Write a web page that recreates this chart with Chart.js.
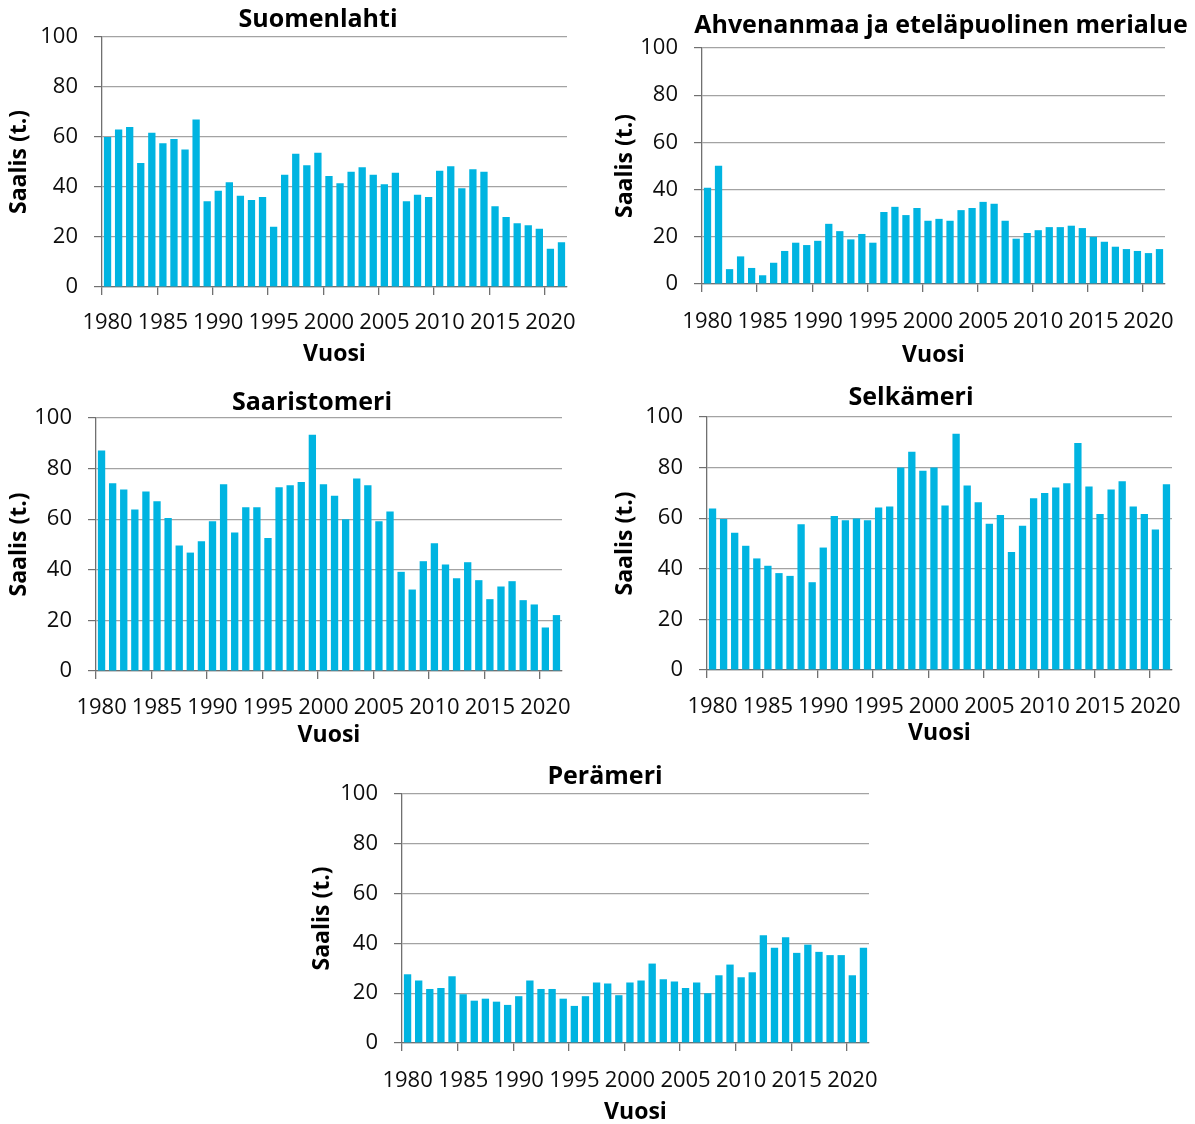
<!DOCTYPE html>
<html>
<head>
<meta charset="utf-8">
<script src="https://cdn.jsdelivr.net/npm/chart.js@4"></script>
<style>
  html, body { margin: 0; padding: 0; background: #fff; }
  #page { position: relative; width: 1195px; height: 1124px; overflow: hidden; }
  #page canvas { position: absolute; }
</style>
</head>
<body>
<div id="page"></div>
<script>
const years = [
    "1980","1981","1982","1983","1984","1985","1986","1987","1988","1989",
    "1990","1991","1992","1993","1994","1995","1996","1997","1998","1999",
    "2000","2001","2002","2003","2004","2005","2006","2007","2008","2009",
    "2010","2011","2012","2013","2014","2015","2016","2017","2018","2019",
    "2020","2021"
];

const suomenlahti = [60.0, 63.0, 64.0, 49.6, 61.7, 57.5, 59.2, 55.0, 67.0, 34.3,
    38.5, 41.9, 36.5, 34.8, 36.0, 24.1, 44.9, 53.3, 48.7, 53.7,
    44.4, 41.5, 46.1, 47.9, 44.9, 41.1, 45.7, 34.3, 36.9, 36.0,
    46.5, 48.3, 39.5, 47.1, 46.1, 32.3, 28.0, 25.5, 24.7, 23.3,
    15.3, 17.9];

const ahvenanmaa = [40.8, 50.1, 6.3, 11.7, 6.8, 3.7, 9.0, 14.0, 17.5, 16.5,
    18.3, 25.5, 22.4, 18.9, 21.2, 17.5, 30.5, 32.7, 29.2, 32.2,
    26.8, 27.6, 26.8, 31.3, 32.2, 34.8, 34.0, 26.8, 19.2, 21.6,
    22.8, 24.1, 24.1, 24.7, 23.7, 20.0, 17.9, 15.8, 14.8, 14.0,
    13.1, 14.8];

const saaristomeri = [87.2, 74.2, 71.7, 63.8, 70.9, 67.1, 60.5, 49.6, 46.8, 51.3,
    59.2, 73.8, 54.7, 64.7, 64.7, 52.6, 72.6, 73.4, 74.7, 93.4,
    73.8, 69.3, 60.0, 76.1, 73.4, 59.2, 63.0, 39.2, 32.2, 43.4,
    50.5, 42.1, 36.7, 43.0, 35.9, 28.4, 33.4, 35.5, 28.0, 26.3,
    17.2, 22.1];

const selkameri = [63.8, 59.7, 54.2, 49.1, 44.1, 41.2, 38.3, 37.2, 57.6, 34.7,
    48.4, 60.9, 59.2, 59.9, 59.2, 64.2, 64.6, 80.0, 86.3, 78.8,
    80.0, 65.0, 93.4, 72.9, 66.3, 57.8, 61.3, 46.6, 57.0, 67.9,
    70.0, 72.1, 73.8, 89.7, 72.5, 61.7, 71.3, 74.6, 64.6, 61.7,
    55.5, 73.4];

const peramerí = [27.6, 25.1, 21.7, 22.1, 26.8, 19.6, 17.0, 17.8, 16.6, 15.3,
    18.8, 25.1, 21.7, 21.7, 17.8, 14.9, 18.8, 24.3, 23.9, 19.2,
    24.3, 25.1, 31.9, 25.6, 24.7, 22.1, 24.3, 20.0, 27.2, 31.5,
    26.4, 28.4, 43.3, 38.3, 42.5, 36.2, 39.5, 36.6, 35.3, 35.3,
    27.2, 38.3];

const yMin = 0;
const yMax = 100;
const yStep = 20;
const labelEvery = 5;

const yTitle = "Saalis (t.)";
const xTitle = "Vuosi";

/* =========================
      STYLE + LAYOUT
========================= */

const FONT = "'Open Sans', 'Noto Sans', sans-serif";
const BAR = "#00b4e1";
const GRID = "#a3a3a3";
const AXIS = "#707070";
const TEXT = "#0d0d0d";
const TICK_SIZE = 22;
const TITLE_SIZE = 25;
const AXTITLE_SIZE = 23;

// where each panel sits in the picture (title centre, plot box, label rows)
const panels = [
    { title: "Suomenlahti", data: suomenlahti,
      titleX: 318, titleY: 18, yLabX: 20, plotL: 102, plotR: 567, plotT: 37, plotB: 287, xLabY: 320, vuosiY: 352 },
    { title: "Ahvenanmaa ja eteläpuolinen merialue", data: ahvenanmaa,
      titleX: 941, titleY: 24, yLabX: 626, plotL: 702, plotR: 1165, plotT: 48, plotB: 284, xLabY: 319, vuosiY: 353 },
    { title: "Saaristomeri", data: saaristomeri,
      titleX: 312, titleY: 401, yLabX: 20, plotL: 96, plotR: 562, plotT: 418, plotB: 671, xLabY: 705, vuosiY: 733 },
    { title: "Selkämeri", data: selkameri,
      titleX: 911, titleY: 396, yLabX: 626, plotL: 707, plotR: 1172, plotT: 417, plotB: 670, xLabY: 704, vuosiY: 731 },
    { title: "Perämeri", data: peramerí,
      titleX: 605, titleY: 775, yLabX: 323, plotL: 402, plotR: 869, plotT: 794, plotB: 1043, xLabY: 1078, vuosiY: 1110 }
];

function createPanel(p) {

    const titleLine = TITLE_SIZE * 1.2;
    const axLine = AXTITLE_SIZE * 1.2;
    const tickLine = TICK_SIZE * 1.2;

    // canvas text sits a little high with a middle baseline, so nudge down
    const top = Math.round(p.titleY + 2 - 4 - titleLine / 2);
    const left = Math.round(p.yLabX - 4 - axLine / 2);
    const bottom = Math.round(p.vuosiY + 2 + axLine / 2 + 4);
    const right = Math.round(2 * p.titleX - left);

    const canvas = document.createElement("canvas");
    canvas.width = right - left;
    canvas.height = bottom - top;
    canvas.style.left = left + "px";
    canvas.style.top = top + "px";
    document.getElementById("page").appendChild(canvas);

    const yWidth = p.plotL - left;
    const padWidth = right - p.plotR;
    const xHeight = bottom - p.plotB;
    const titleGap = p.plotT - top - 4 - titleLine;
    const xTickPad = p.xLabY + 3 - p.plotB - 8 - tickLine / 2;

    new Chart(canvas, {
        type: "bar",
        data: {
            labels: years,
            datasets: [{
                data: p.data,
                backgroundColor: BAR,
                borderWidth: 0,
                categoryPercentage: 1,
                barPercentage: 0.66
            }]
        },
        options: {
            responsive: false,
            animation: false,
            devicePixelRatio: 1,
            layout: { padding: 0 },
            plugins: {
                legend: { display: false },
                tooltip: { enabled: false },
                title: {
                    display: true,
                    text: p.title,
                    color: "#000",
                    font: { family: FONT, size: TITLE_SIZE, weight: "bold" },
                    padding: { top: 4, bottom: titleGap }
                }
            },
            scales: {
                x: {
                    type: "category",
                    offset: true,
                    grid: {
                        offset: true,
                        drawOnChartArea: false,
                        tickLength: 8,
                        lineWidth: 1.3,
                        color: (ctx) => ctx.index % labelEvery === 0 ? AXIS : "rgba(0,0,0,0)"
                    },
                    border: { display: true, color: AXIS, width: 1.3 },
                    ticks: {
                        autoSkip: false,
                        maxRotation: 0,
                        minRotation: 0,
                        padding: xTickPad,
                        color: TEXT,
                        font: { family: FONT, size: TICK_SIZE },
                        callback: (v, i) => i % labelEvery === 0 ? years[i] : ""
                    },
                    title: {
                        display: true,
                        text: xTitle,
                        color: "#000",
                        font: { family: FONT, size: AXTITLE_SIZE, weight: "bold" },
                        padding: { top: 4, bottom: 4 }
                    },
                    afterFit: (scale) => { scale.height = xHeight; }
                },
                y: {
                    min: yMin,
                    max: yMax,
                    grid: {
                        color: GRID,
                        tickColor: AXIS,
                        tickLength: 8,
                        lineWidth: 1.2
                    },
                    border: { display: true, color: AXIS, width: 1.3 },
                    ticks: {
                        stepSize: yStep,
                        padding: 16,
                        color: TEXT,
                        font: { family: FONT, size: TICK_SIZE }
                    },
                    title: {
                        display: true,
                        text: yTitle,
                        color: "#000",
                        font: { family: FONT, size: AXTITLE_SIZE, weight: "bold" },
                        padding: { top: 4, bottom: 4 }
                    },
                    afterFit: (scale) => { scale.width = yWidth; }
                },
                pad: {
                    type: "linear",
                    position: "right",
                    grid: { display: false },
                    border: { display: false },
                    ticks: { display: false },
                    afterFit: (scale) => { scale.width = padWidth; }
                }
            }
        }
    });

}

/* =========================
      CREATE CHARTS
========================= */

panels.forEach(createPanel);
</script>
</body>
</html>
